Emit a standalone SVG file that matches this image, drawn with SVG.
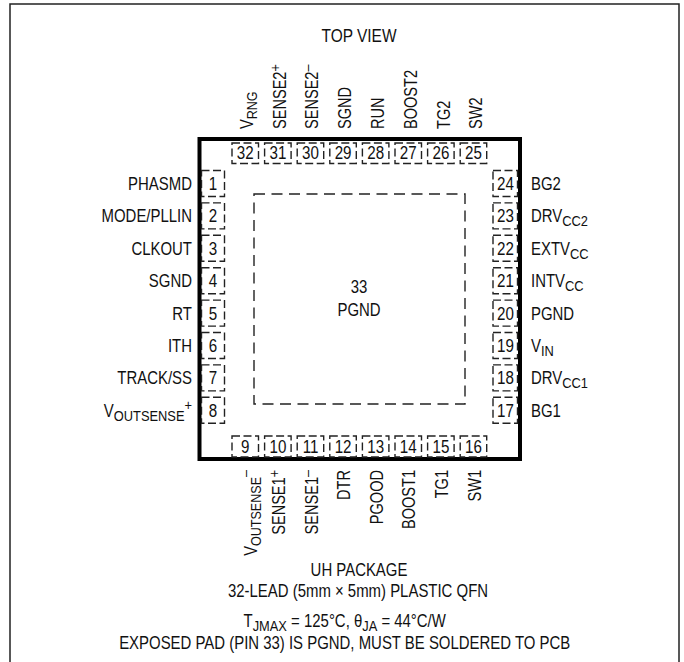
<svg xmlns="http://www.w3.org/2000/svg" width="684" height="662" viewBox="0 0 684 662">
<style>
text{font-family:"Liberation Sans",Arial,sans-serif;font-size:18px;fill:#111}
.e{text-anchor:end}.m{text-anchor:middle}
.b{fill:none;stroke:#222;stroke-width:1.4;stroke-dasharray:8 3.500}
.p{font-size:18.500px}
</style>
<rect width="684" height="662" fill="#fff"/>
<path d="M10 662V4H679V662" fill="none" stroke="#222" stroke-width="1.5"/>
<text class="m" transform="translate(359 41.500) scale(.86 1)">TOP VIEW</text>
<g id="package"><rect x="199.500" y="139" width="320.500" height="320" fill="none" stroke="#000" stroke-width="4"/>
<rect x="254" y="194" width="211" height="210" class="b" style="stroke-dasharray:11 6.500"/>
<text class="m" transform="translate(359 293) scale(.83 1)">33</text><text class="m" transform="translate(359 316) scale(.83 1)">PGND</text></g>
<g id="connectors"/>
<g id="pin1"><rect x="201.500" y="170.500" width="23" height="26" class="b"/><text class="m p" transform="translate(213 190) scale(.82 1)">1</text><text class="e" transform="translate(192 190) scale(.83 1)">PHASMD</text></g>
<g id="pin2"><rect x="201.500" y="202.900" width="23" height="26" class="b"/><text class="m p" transform="translate(213 222.400) scale(.82 1)">2</text><text class="e" transform="translate(192 222.400) scale(.83 1)">MODE/PLLIN</text></g>
<g id="pin3"><rect x="201.500" y="235.300" width="23" height="26" class="b"/><text class="m p" transform="translate(213 254.800) scale(.82 1)">3</text><text class="e" transform="translate(192 254.800) scale(.83 1)">CLKOUT</text></g>
<g id="pin4"><rect x="201.500" y="267.700" width="23" height="26" class="b"/><text class="m p" transform="translate(213 287.200) scale(.82 1)">4</text><text class="e" transform="translate(192 287.200) scale(.83 1)">SGND</text></g>
<g id="pin5"><rect x="201.500" y="300.100" width="23" height="26" class="b"/><text class="m p" transform="translate(213 319.600) scale(.82 1)">5</text><text class="e" transform="translate(192 319.600) scale(.83 1)">RT</text></g>
<g id="pin6"><rect x="201.500" y="332.500" width="23" height="26" class="b"/><text class="m p" transform="translate(213 352) scale(.82 1)">6</text><text class="e" transform="translate(192 352) scale(.83 1)">ITH</text></g>
<g id="pin7"><rect x="201.500" y="364.900" width="23" height="26" class="b"/><text class="m p" transform="translate(213 384.400) scale(.82 1)">7</text><text class="e" transform="translate(192 384.400) scale(.83 1)">TRACK/SS</text></g>
<g id="pin8"><rect x="201.500" y="397.300" width="23" height="26" class="b"/><text class="m p" transform="translate(213 416.800) scale(.82 1)">8</text><text class="e" transform="translate(192 416.800) scale(.83 1)">V<tspan font-size="15.500" dy="4">OUTSENSE</tspan><tspan font-size="15.500" dy="-11">+</tspan></text></g>
<g id="pin9"><rect x="232" y="436" width="26.500" height="21" class="b"/><text class="m p" transform="translate(245.300 453) scale(.82 1)">9</text><text class="e" transform="translate(256.500 470) rotate(-90) scale(.81 1)">V<tspan font-size="15.500" dy="4">OUTSENSE</tspan><tspan font-size="15.500" dy="-11">–</tspan></text></g>
<g id="pin10"><rect x="264.600" y="436" width="26.500" height="21" class="b"/><text class="m p" transform="translate(277.900 453) scale(.82 1)">10</text><text class="e" transform="translate(285 470) rotate(-90) scale(.81 1)">SENSE1<tspan font-size="15.500" dy="-6">+</tspan></text></g>
<g id="pin11"><rect x="297.200" y="436" width="26.500" height="21" class="b"/><text class="m p" transform="translate(310.500 453) scale(.82 1)">11</text><text class="e" transform="translate(317.500 470) rotate(-90) scale(.81 1)">SENSE1<tspan font-size="15.500" dy="-6">–</tspan></text></g>
<g id="pin12"><rect x="329.800" y="436" width="26.500" height="21" class="b"/><text class="m p" transform="translate(343.100 453) scale(.82 1)">12</text><text class="e" transform="translate(350 470) rotate(-90) scale(.81 1)">DTR</text></g>
<g id="pin13"><rect x="362.400" y="436" width="26.500" height="21" class="b"/><text class="m p" transform="translate(375.700 453) scale(.82 1)">13</text><text class="e" transform="translate(382.700 470) rotate(-90) scale(.81 1)">PGOOD</text></g>
<g id="pin14"><rect x="395" y="436" width="26.500" height="21" class="b"/><text class="m p" transform="translate(408.300 453) scale(.82 1)">14</text><text class="e" transform="translate(415.300 470) rotate(-90) scale(.81 1)">BOOST1</text></g>
<g id="pin15"><rect x="427.600" y="436" width="26.500" height="21" class="b"/><text class="m p" transform="translate(440.900 453) scale(.82 1)">15</text><text class="e" transform="translate(447.900 470) rotate(-90) scale(.81 1)">TG1</text></g>
<g id="pin16"><rect x="460.200" y="436" width="26.500" height="21" class="b"/><text class="m p" transform="translate(473.500 453) scale(.82 1)">16</text><text class="e" transform="translate(480.500 470) rotate(-90) scale(.81 1)">SW1</text></g>
<g id="pin17"><rect x="493" y="397.300" width="24.500" height="26" class="b"/><text class="m p" transform="translate(505.500 416.800) scale(.82 1)">17</text><text transform="translate(531 416.800) scale(.83 1)">BG1</text></g>
<g id="pin18"><rect x="493" y="364.900" width="24.500" height="26" class="b"/><text class="m p" transform="translate(505.500 384.400) scale(.82 1)">18</text><text transform="translate(531 384.400) scale(.83 1)">DRV<tspan font-size="15.500" dy="4">CC1</tspan></text></g>
<g id="pin19"><rect x="493" y="332.500" width="24.500" height="26" class="b"/><text class="m p" transform="translate(505.500 352) scale(.82 1)">19</text><text transform="translate(531 352) scale(.83 1)">V<tspan font-size="15.500" dy="4">IN</tspan></text></g>
<g id="pin20"><rect x="493" y="300.100" width="24.500" height="26" class="b"/><text class="m p" transform="translate(505.500 319.600) scale(.82 1)">20</text><text transform="translate(531 319.600) scale(.83 1)">PGND</text></g>
<g id="pin21"><rect x="493" y="267.700" width="24.500" height="26" class="b"/><text class="m p" transform="translate(505.500 287.200) scale(.82 1)">21</text><text transform="translate(531 287.200) scale(.83 1)">INTV<tspan font-size="15.500" dy="4">CC</tspan></text></g>
<g id="pin22"><rect x="493" y="235.300" width="24.500" height="26" class="b"/><text class="m p" transform="translate(505.500 254.800) scale(.82 1)">22</text><text transform="translate(531 254.800) scale(.83 1)">EXTV<tspan font-size="15.500" dy="4">CC</tspan></text></g>
<g id="pin23"><rect x="493" y="202.900" width="24.500" height="26" class="b"/><text class="m p" transform="translate(505.500 222.400) scale(.82 1)">23</text><text transform="translate(531 222.400) scale(.83 1)">DRV<tspan font-size="15.500" dy="4">CC2</tspan></text></g>
<g id="pin24"><rect x="493" y="170.500" width="24.500" height="26" class="b"/><text class="m p" transform="translate(505.500 190) scale(.82 1)">24</text><text transform="translate(531 190) scale(.83 1)">BG2</text></g>
<g id="pin25"><rect x="460.200" y="143" width="26.500" height="20.500" class="b"/><text class="m p" transform="translate(473.500 158.500) scale(.82 1)">25</text><text transform="translate(482 129) rotate(-90) scale(.81 1)">SW2</text></g>
<g id="pin26"><rect x="427.600" y="143" width="26.500" height="20.500" class="b"/><text class="m p" transform="translate(440.900 158.500) scale(.82 1)">26</text><text transform="translate(449.500 129) rotate(-90) scale(.81 1)">TG2</text></g>
<g id="pin27"><rect x="395" y="143" width="26.500" height="20.500" class="b"/><text class="m p" transform="translate(408.300 158.500) scale(.82 1)">27</text><text transform="translate(416.500 129) rotate(-90) scale(.81 1)">BOOST2</text></g>
<g id="pin28"><rect x="362.400" y="143" width="26.500" height="20.500" class="b"/><text class="m p" transform="translate(375.700 158.500) scale(.82 1)">28</text><text transform="translate(383.500 129) rotate(-90) scale(.81 1)">RUN</text></g>
<g id="pin29"><rect x="329.800" y="143" width="26.500" height="20.500" class="b"/><text class="m p" transform="translate(343.100 158.500) scale(.82 1)">29</text><text transform="translate(351 129) rotate(-90) scale(.81 1)">SGND</text></g>
<g id="pin30"><rect x="297.200" y="143" width="26.500" height="20.500" class="b"/><text class="m p" transform="translate(310.500 158.500) scale(.82 1)">30</text><text transform="translate(318.300 129) rotate(-90) scale(.81 1)">SENSE2<tspan font-size="15.500" dy="-6">–</tspan></text></g>
<g id="pin31"><rect x="264.600" y="143" width="26.500" height="20.500" class="b"/><text class="m p" transform="translate(277.900 158.500) scale(.82 1)">31</text><text transform="translate(285.700 129) rotate(-90) scale(.81 1)">SENSE2<tspan font-size="15.500" dy="-6">+</tspan></text></g>
<g id="pin32"><rect x="232" y="143" width="26.500" height="20.500" class="b"/><text class="m p" transform="translate(245.300 158.500) scale(.82 1)">32</text><text transform="translate(253 129) rotate(-90) scale(.81 1)">V<tspan font-size="15.500" dy="4">RNG</tspan></text></g>
<g id="notes">
<text class="m" transform="translate(359 576) scale(.83 1)">UH PACKAGE</text>
<text class="m" transform="translate(358 597) scale(.83 1)">32-LEAD (5mm × 5mm) PLASTIC QFN</text>
<text class="m" transform="translate(344.700 627) scale(.83 1)">T<tspan font-size="15.500" dy="4">JMAX</tspan><tspan dy="-4"> = 125°C, θ</tspan><tspan font-size="15.500" dy="4">JA</tspan><tspan dy="-4"> = 44°C/W</tspan></text>
<text class="m" transform="translate(344.700 649) scale(.83 1)">EXPOSED PAD (PIN 33) IS PGND, MUST BE SOLDERED TO PCB</text>
</g>
</svg>
